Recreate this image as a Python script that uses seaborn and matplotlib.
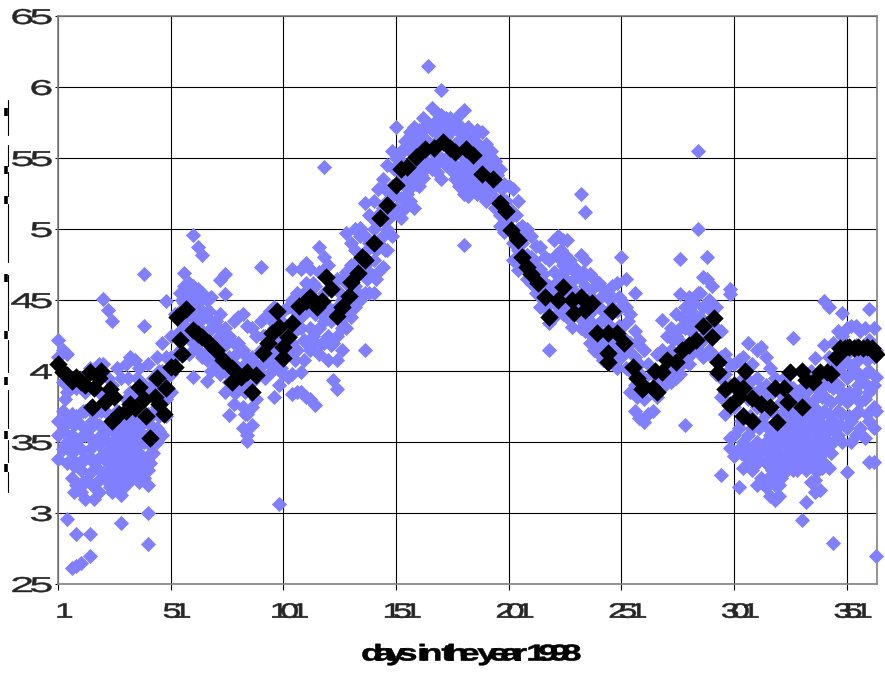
import numpy as np
import pandas as pd
import seaborn as sns
import matplotlib
matplotlib.use("Agg")
import matplotlib.pyplot as plt
import matplotlib.patheffects as pe
from matplotlib.lines import Line2D
from matplotlib.path import Path
from matplotlib.transforms import IdentityTransform, ScaledTranslation

# ── Data ─────────────────────────────────────────────────────────────────────
x_ticks = [1, 51, 101, 151, 201, 251, 301, 351]
x_tick_labels = ["1", "51", "101", "151", "201", "251", "301", "351"]
y_ticks = [2.5, 3, 3.5, 4, 4.5, 5, 5.5, 6, 6.5]
y_tick_labels = ["25", "3", "35", "4", "45", "5", "55", "6", "65"]
x_title = "days in the year 1998"

# blue scatter, one list of readings per day column
blue_days_a = list(range(1, 50, 2))
blue_vals_a = [
    [4.22, 4.1, 3.65, 3.55, 3.38], [4.15, 3.92, 3.72, 3.58, 3.45], [4.12, 3.85, 3.65, 3.5, 3.35, 2.96],
    [3.95, 3.7, 3.55, 3.42, 3.25, 2.61], [3.88, 3.68, 3.5, 3.35, 3.2, 2.85, 2.63], [3.95, 3.62, 3.45, 3.3, 3.15, 2.65],
    [3.85, 3.72, 3.55, 3.38, 3.22, 3.1], [4.02, 3.75, 3.6, 3.45, 3.28, 2.85, 2.7], [4.0, 3.7, 3.5, 3.35, 3.2, 3.1],
    [4.05, 3.85, 3.62, 3.48, 3.3, 3.15], [4.51, 4.05, 3.78, 3.55, 3.4, 3.28], [4.43, 3.95, 3.7, 3.5, 3.35, 3.22],
    [4.35, 3.9, 3.68, 3.5, 3.38, 3.25, 3.15], [4.02, 3.72, 3.55, 3.45, 3.35, 3.25, 3.18],
    [3.95, 3.7, 3.55, 3.42, 3.32, 3.22, 3.13, 2.93], [4.05, 3.8, 3.6, 3.48, 3.38, 3.28, 3.2],
    [4.1, 3.85, 3.65, 3.5, 3.4, 3.3, 3.25], [4.08, 3.8, 3.6, 3.48, 3.35, 3.28], [4.02, 3.75, 3.58, 3.42, 3.3, 3.22],
    [4.68, 4.32, 3.9, 3.65, 3.5, 3.35, 3.25], [4.05, 3.7, 3.55, 3.4, 3.3, 3.2, 3.0, 2.78], [3.95, 3.85, 3.7, 3.55, 3.42],
    [4.1, 3.9, 3.75, 3.6, 3.5], [4.2, 4.0, 3.85, 3.7, 3.55], [4.49, 4.1, 3.95, 3.8, 3.68],
]
blue_days_b = list(range(51, 100, 2))
blue_vals_b = [
    [4.25, 4.1, 3.98, 3.85], [4.4, 4.25, 4.1], [4.55, 4.42, 4.28, 4.15], [4.69, 4.6, 4.48, 4.32, 4.12],
    [4.62, 4.52, 4.4, 4.25, 4.12], [4.96, 4.6, 4.5, 4.38, 4.2, 3.96], [4.87, 4.58, 4.45, 4.3, 4.15],
    [4.82, 4.55, 4.42, 4.28, 4.1], [4.5, 4.38, 4.22, 4.08, 3.93], [4.52, 4.3, 4.15, 4.0], [4.35, 4.22, 4.1],
    [4.64, 4.4, 4.25, 4.1, 3.98], [4.68, 4.54, 4.3, 4.18, 4.0, 3.85], [4.25, 4.1, 3.92, 3.69],
    [4.35, 4.2, 4.05, 3.85, 3.77], [4.38, 4.2, 4.02, 3.9], [4.4, 4.15, 3.95, 3.75, 3.6],
    [4.32, 4.1, 3.88, 3.7, 3.55, 3.51], [4.3, 4.1, 3.92, 3.75, 3.62], [4.25, 4.05, 3.95, 3.8],
    [4.73, 4.35, 4.15, 3.98], [4.38, 4.25, 4.1, 3.95], [4.42, 4.22, 4.05], [4.45, 4.3, 4.12, 3.82],
    [4.4, 4.22, 4.05, 3.9, 3.06],
]
blue_days_c = list(range(101, 150, 2))
blue_vals_c = [
    [4.42, 4.28, 4.1, 3.98], [4.45, 4.3, 4.12, 3.96], [4.72, 4.5, 4.2, 3.98, 3.84], [4.55, 4.35, 4.15, 3.85],
    [4.72, 4.5, 4.3, 3.99, 3.85], [4.76, 4.62, 4.45, 4.2, 3.82], [4.72, 4.55, 4.3, 4.15, 3.8], [4.6, 4.4, 4.2, 3.76],
    [4.87, 4.7, 4.5, 4.3, 4.12], [5.44, 4.8, 4.55, 4.35, 4.2], [4.75, 4.45, 4.25, 4.08], [4.6, 4.42, 4.2, 3.94],
    [4.65, 4.45, 4.25, 4.08, 3.87], [4.65, 4.5, 4.3, 4.15], [4.97, 4.7, 4.5, 4.3], [4.9, 4.75, 4.55, 4.38],
    [5.0, 4.85, 4.6, 4.45], [5.01, 4.95, 4.7, 4.5], [5.18, 4.95, 4.75, 4.55, 4.15], [5.1, 4.9, 4.7, 4.55],
    [5.2, 5.0, 4.78, 4.55], [5.28, 5.1, 4.9, 4.7], [5.35, 5.15, 4.95, 4.73], [5.45, 5.2, 5.0, 4.85],
    [5.55, 5.3, 5.1, 4.95],
]
blue_days_d = list(range(151, 200, 2))
blue_vals_d = [
    [5.72, 5.5, 5.32, 5.15], [5.55, 5.4, 5.22, 5.08], [5.62, 5.45, 5.3, 5.15], [5.68, 5.55, 5.35, 5.2],
    [5.72, 5.55, 5.4, 5.15], [5.7, 5.6, 5.42, 5.3], [5.78, 5.65, 5.5, 5.36], [6.15, 5.75, 5.6, 5.45],
    [5.85, 5.7, 5.55, 5.42], [5.82, 5.68, 5.5, 5.4], [5.98, 5.8, 5.65, 5.5, 5.35], [5.78, 5.65, 5.5, 5.45],
    [5.78, 5.68, 5.5, 5.42], [5.75, 5.6, 5.45, 5.35], [5.8, 5.62, 5.42, 5.3], [5.84, 5.65, 5.4, 5.25, 4.89],
    [5.72, 5.5, 5.35, 5.23], [5.65, 5.45, 5.3], [5.7, 5.55, 5.38, 5.25], [5.68, 5.5, 5.3, 5.24],
    [5.6, 5.45, 5.3, 5.2], [5.55, 5.4, 5.25], [5.48, 5.3, 5.15], [5.42, 5.3, 5.1, 5.02], [5.32, 5.2, 5.05, 4.98],
]
blue_days_e = list(range(201, 250, 2))
blue_vals_e = [
    [5.3, 5.15, 5.0], [5.28, 5.1, 4.9, 4.78], [5.2, 5.0, 4.85, 4.71], [5.02, 4.9, 4.75], [5.0, 4.82, 4.65],
    [4.95, 4.8, 4.62], [4.88, 4.72, 4.55], [4.87, 4.72, 4.55, 4.45], [4.8, 4.62, 4.45],
    [4.78, 4.6, 4.4, 4.34, 4.15], [4.92, 4.7, 4.55, 4.38], [4.95, 4.8, 4.6, 4.45], [4.92, 4.75, 4.6, 4.4],
    [4.92, 4.72, 4.55, 4.38], [4.72, 4.55, 4.4, 4.31], [4.72, 4.55, 4.42], [5.25, 4.82, 4.65, 4.45, 4.3],
    [5.12, 4.78, 4.6, 4.42, 4.28], [4.68, 4.52, 4.35, 4.2], [4.65, 4.5, 4.3, 4.15], [4.62, 4.45, 4.28, 4.12],
    [4.58, 4.42, 4.25, 4.08], [4.55, 4.38, 4.2, 4.05], [4.6, 4.45, 4.25, 4.1], [4.62, 4.42, 4.2, 4.02],
]
blue_days_f = list(range(251, 300, 2))
blue_vals_f = [
    [4.8, 4.5, 4.3, 4.1], [4.65, 4.45, 4.22, 4.02], [4.4, 4.2, 4.0, 3.85], [4.55, 4.28, 4.1, 3.9, 3.72],
    [4.22, 4.05, 3.85, 3.67], [4.15, 3.95, 3.8, 3.64], [4.05, 3.88, 3.7], [3.98, 3.85, 3.72], [4.12, 3.95, 3.82],
    [4.36, 4.15, 4.0, 3.88], [4.25, 4.1, 3.95], [4.3, 4.15, 4.0, 3.92], [4.4, 4.25, 4.05, 3.95],
    [4.79, 4.54, 4.3, 4.1, 3.98], [4.45, 4.3, 4.12, 3.62], [4.52, 4.35, 4.2, 4.05], [4.48, 4.35, 4.15],
    [5.55, 5.0, 4.55, 4.35, 4.15], [4.66, 4.45, 4.25, 4.1], [4.8, 4.65, 4.45, 4.25], [4.6, 4.42, 4.25, 4.1],
    [4.45, 4.3, 4.1, 3.98], [4.28, 4.1, 3.95, 3.82, 3.27], [4.12, 3.98, 3.85, 3.7],
    [4.58, 4.54, 4.05, 3.9, 3.75, 3.53, 3.46],
]
blue_days_g = list(range(301, 364, 2)) + [364]
blue_vals_g = [
    [4.05, 3.9, 3.75, 3.55, 3.4], [4.08, 3.85, 3.6, 3.45, 3.18], [4.1, 3.95, 3.7, 3.5, 3.32],
    [4.2, 4.02, 3.8, 3.55, 3.38], [4.05, 3.85, 3.6, 3.42, 3.3], [4.15, 3.95, 3.75, 3.5, 3.35, 3.2],
    [4.17, 3.88, 3.65, 3.45, 3.25], [4.1, 3.9, 3.7, 3.5, 3.35, 3.18], [4.02, 3.75, 3.55, 3.38, 3.25, 3.12],
    [3.95, 3.7, 3.5, 3.35, 3.2, 3.09], [3.85, 3.65, 3.48, 3.32, 3.2, 3.12], [3.95, 3.72, 3.55, 3.4, 3.28],
    [3.9, 3.7, 3.55, 3.42, 3.32], [4.23, 3.88, 3.7, 3.55, 3.42, 3.3], [3.85, 3.7, 3.55, 3.42, 3.3],
    [3.88, 3.72, 3.6, 3.48, 3.35, 2.95], [3.85, 3.68, 3.55, 3.45, 3.3, 3.08], [4.0, 3.75, 3.62, 3.48, 3.38, 3.22],
    [4.09, 3.8, 3.65, 3.5, 3.38, 3.23, 3.15], [4.0, 3.85, 3.68, 3.52, 3.4, 3.16], [4.49, 4.18, 3.9, 3.72, 3.55, 3.35],
    [4.45, 4.1, 3.9, 3.7, 3.5, 3.32], [4.2, 4.05, 3.88, 3.65, 3.5, 2.79], [4.28, 4.1, 3.9, 3.72, 3.55],
    [4.41, 4.25, 4.05, 3.85, 3.7, 3.5], [4.3, 4.12, 3.95, 3.78, 3.6, 3.29], [4.32, 4.15, 3.98, 3.82, 3.65, 3.5],
    [4.32, 4.18, 4.0, 3.85, 3.7, 3.55], [4.28, 4.12, 3.95, 3.78, 3.6], [4.3, 4.15, 3.98, 3.8, 3.53],
    [4.44, 4.22, 4.0, 3.85, 3.65, 3.36], [4.3, 4.1, 3.9, 3.75, 3.6, 3.36], [4.15, 3.96, 3.72, 2.7],
]

# even-day columns where the blue cloud reads as solid
blue_days_winter = [4, 8, 12, 16, 20, 24, 26, 28, 30, 32, 34, 36, 38, 42, 46]
blue_vals_winter = [
    [3.8, 3.62, 3.48], [3.62, 3.48, 3.33, 3.15], [3.72, 3.55, 3.38, 3.22], [3.65, 3.52, 3.38, 3.2],
    [3.72, 3.55, 3.4, 3.25], [3.85, 3.6, 3.45, 3.3, 3.18], [3.62, 3.48, 3.3, 3.2], [3.6, 3.5, 3.4, 3.3, 3.2],
    [3.62, 3.5, 3.38, 3.28, 3.18], [3.95, 3.7, 3.55, 3.42, 3.32, 3.25], [3.7, 3.55, 3.45, 3.35, 3.25],
    [3.95, 3.7, 3.55, 3.42, 3.3], [3.62, 3.5, 3.35, 3.28], [3.88, 3.62, 3.48, 3.35], [4.0, 3.68, 3.58],
]
blue_days_spring = [56, 60, 64, 68, 72, 80, 84, 92, 96, 100, 106, 110, 114, 118, 122, 126, 130, 134, 138, 142, 146]
blue_vals_spring = [
    [4.5, 4.35, 4.22], [4.55, 4.42, 4.3], [4.5, 4.35, 4.22], [4.42, 4.28, 4.15], [4.3, 4.15, 4.05],
    [4.12, 3.95, 3.85], [4.05, 3.85, 3.7], [4.25, 4.05], [4.35, 4.15, 4.0], [4.35, 4.2, 4.02],
    [4.42, 4.28, 4.08], [4.55, 4.4, 4.22, 4.08], [4.62, 4.45, 4.25], [4.7, 4.4, 4.2], [4.6, 4.35, 4.18],
    [4.55, 4.35], [4.6, 4.42], [4.78, 4.55], [4.85, 4.65], [5.05, 4.85, 4.65], [5.28, 5.05, 4.85],
]
blue_days_summer = list(range(150, 200, 2))
blue_vals_summer = [
    [5.42, 5.25], [5.5, 5.32], [5.55, 5.38], [5.58, 5.42, 5.25], [5.62, 5.48, 5.3], [5.65, 5.48, 5.32],
    [5.68, 5.52, 5.38], [5.72, 5.58, 5.42], [5.72, 5.6, 5.45], [5.75, 5.6, 5.48], [5.75, 5.62, 5.48],
    [5.75, 5.62, 5.48], [5.72, 5.58, 5.45], [5.72, 5.55, 5.42], [5.7, 5.55, 5.38], [5.72, 5.52, 5.35],
    [5.65, 5.48, 5.32], [5.6, 5.42, 5.28], [5.62, 5.45, 5.3], [5.55, 5.38], [5.52, 5.35], [5.48, 5.3],
    [5.4, 5.22], [5.38, 5.2], [5.28, 5.12],
]
blue_days_autumn = [200, 204, 208, 212, 216, 222, 224, 226, 228, 230, 234, 238, 242, 246, 250, 254, 258, 274, 278, 282, 286, 290]
blue_vals_autumn = [
    [5.2, 5.05], [5.1, 4.92], [4.95, 4.75], [4.78, 4.62], [4.68, 4.5], [4.82, 4.62, 4.48], [4.85, 4.68, 4.5],
    [4.82, 4.65, 4.48], [4.78, 4.6, 4.45], [4.65, 4.48], [4.7, 4.52, 4.35], [4.58, 4.42, 4.25],
    [4.52, 4.35, 4.18], [4.5, 4.32, 4.15], [4.52, 4.32, 4.12], [4.35, 4.15], [4.2, 4.0, 3.82],
    [4.22, 4.08], [4.38, 4.2, 4.05], [4.42, 4.28, 4.12], [4.55, 4.38, 4.2], [4.5, 4.32, 4.15],
]
blue_days_late = [304, 308, 312, 316, 318, 320, 322, 324, 326, 328, 330, 332, 334, 336, 338, 340, 342, 344, 348, 352, 356, 360]
blue_vals_late = [
    [3.9, 3.65, 3.42], [3.92, 3.68, 3.45], [3.85, 3.6, 3.38], [3.82, 3.6, 3.42, 3.25], [3.62, 3.45, 3.3],
    [3.58, 3.42, 3.28], [3.78, 3.55, 3.4, 3.25], [3.62, 3.48, 3.35], [3.8, 3.62, 3.48, 3.38], [3.78, 3.62, 3.5, 3.38],
    [3.65, 3.52, 3.42], [3.8, 3.65, 3.5, 3.4], [3.75, 3.6, 3.5, 3.38], [3.7, 3.58, 3.45, 3.32], [3.72, 3.6, 3.45, 3.3],
    [3.82, 3.62, 3.48, 3.32], [3.98, 3.8, 3.62, 3.45], [3.95, 3.78, 3.6, 3.42], [4.0, 3.8, 3.62], [4.05, 3.85, 3.68],
    [4.08, 3.9, 3.72], [4.08, 3.9, 3.7],
]

# black series
black_days = [1, 3, 5, 7, 9, 11, 13, 15, 16, 17, 19, 20, 22, 24, 25, 26, 28, 31, 33, 35, 37, 39, 40, 42, 44, 45,
              46, 48, 49, 51, 53, 54, 55, 56, 58, 61, 63, 65, 68, 71, 74, 78, 78, 82, 85, 87, 89, 92, 94, 96, 98,
              99, 101, 101, 103, 105, 108, 111, 113, 116, 118, 120, 122, 125, 127, 130, 131, 134, 136, 137, 141,
              144, 147, 151, 153, 156, 160, 164, 168, 172, 175, 177, 182, 185, 189, 194, 197, 200, 202, 205, 207,
              209, 211, 214, 217, 219, 223, 225, 229, 230, 233, 235, 238, 240, 245, 245, 245, 247, 249, 252, 256,
              258, 260, 261, 265, 266, 267, 269, 271, 275, 278, 281, 284, 287, 291, 292, 294, 294, 297, 299, 301,
              303, 305, 305, 306, 309, 309, 313, 317, 319, 320, 323, 325, 326, 331, 331, 333, 336, 339, 342, 344,
              346, 348, 350, 352, 354, 356, 358, 360, 362, 364]
black_vals = [4.05, 3.99, 3.97, 3.93, 3.96, 3.92, 3.9, 3.99, 3.75, 3.88, 3.95, 4.0, 3.78, 3.87, 3.65, 3.82, 3.7, 3.72,
              3.77, 3.74, 3.89, 3.8, 3.68, 3.53, 3.82, 3.95, 3.77, 3.7, 3.88, 4.03, 4.03, 4.38, 4.22, 4.12, 4.44,
              4.29, 4.26, 4.24, 4.2, 4.15, 4.08, 4.02, 3.92, 3.96, 3.99, 3.85, 3.97, 4.13, 4.2, 4.27, 4.42, 4.31,
              4.09, 4.17, 4.24, 4.34, 4.46, 4.49, 4.52, 4.45, 4.49, 4.66, 4.58, 4.39, 4.45, 4.53, 4.63, 4.69, 4.8,
              4.78, 4.9, 5.08, 5.17, 5.31, 5.42, 5.44, 5.51, 5.56, 5.57, 5.61, 5.57, 5.54, 5.56, 5.52, 5.39, 5.35,
              5.18, 5.13, 4.99, 4.92, 4.8, 4.73, 4.68, 4.62, 4.52, 4.38, 4.5, 4.59, 4.5, 4.41, 4.52, 4.43, 4.48,
              4.27, 4.27, 4.13, 4.06, 4.42, 4.27, 4.2, 4.03, 3.95, 3.87, 3.89, 3.88, 4.0, 3.85, 3.99, 4.08, 4.06,
              4.15, 4.18, 4.22, 4.32, 4.24, 4.37, 4.06, 3.99, 3.87, 3.76, 3.9, 3.82, 3.68, 3.88, 4.0, 3.65, 3.81,
              3.77, 3.75, 3.88, 3.64, 3.88, 3.78, 3.99, 3.75, 4.0, 3.94, 3.92, 3.99, 3.99, 3.98, 4.1, 4.16, 4.16,
              4.17, 4.16, 4.17, 4.16, 4.17, 4.16, 4.12]

# broken remains of the vertical title at the far left, in image pixels
title_dash_tops = [100, 145, 172, 204, 275, 340, 390, 440, 472]
title_dash_ends = [135, 166, 196, 262, 330, 372, 428, 462, 492]
title_blob_rows = [112, 170, 200, 278, 335, 381, 435, 468]

# ── Config ───────────────────────────────────────────────────────────────────
W, H = 885, 674
BLUE = "#8080FF"
BLUE_S = 60
BLACK_S = 88


class Smear(pe.AbstractPathEffect):
    """Wide glyphs on a tight advance: the string is spread, then every contour widened on its own."""

    def __init__(self, spread, widen, anchor, stroke=0.0):
        super().__init__()
        self.spread, self.widen, self.anchor, self.stroke = spread, widen, anchor, stroke

    def draw_path(self, renderer, gc, tpath, affine, rgbFace=None):
        verts = affine.transform(tpath.vertices).copy()
        codes = tpath.codes
        real = codes != Path.CLOSEPOLY
        x0, x1 = verts[real, 0].min(), verts[real, 0].max()
        pivot = x0 + self.anchor * (x1 - x0)
        verts[:, 0] = pivot + self.spread * (verts[:, 0] - pivot)
        starts = list(np.flatnonzero(codes == Path.MOVETO)) + [len(codes)]
        for a, b in zip(starts[:-1], starts[1:]):
            keep = real[a:b]
            xs = verts[a:b, 0]
            mid = (xs[keep].min() + xs[keep].max()) / 2
            verts[a:b, 0] = mid + self.widen * (xs - mid)
        gc.set_linewidth(self.stroke)
        renderer.draw_path(gc, Path(verts, codes), IdentityTransform(), rgbFace)


def long_table(days, vals):
    rows = [(d, v) for d, col in zip(days, vals) for v in col]
    return pd.DataFrame(rows, columns=["day", "value"])


blue = pd.concat([
    long_table(blue_days_a, blue_vals_a),
    long_table(blue_days_b, blue_vals_b),
    long_table(blue_days_c, blue_vals_c),
    long_table(blue_days_d, blue_vals_d),
    long_table(blue_days_e, blue_vals_e),
    long_table(blue_days_f, blue_vals_f),
    long_table(blue_days_g, blue_vals_g),
    long_table(blue_days_winter, blue_vals_winter),
    long_table(blue_days_spring, blue_vals_spring),
    long_table(blue_days_summer, blue_vals_summer),
    long_table(blue_days_autumn, blue_vals_autumn),
    long_table(blue_days_late, blue_vals_late),
])
black = pd.DataFrame({"day": black_days, "value": black_vals})

# ── Plot ─────────────────────────────────────────────────────────────────────
sns.set_theme(style="white")
plt.rcParams["font.family"] = ["Liberation Sans", "DejaVu Sans"]

fig = plt.figure(figsize=(W / 100, H / 100), dpi=100)
ax = fig.add_axes([58 / W, 1 - 584 / H, (877 - 58) / W, (584 - 16) / H])

sns.scatterplot(data=blue, x="day", y="value", marker="D", s=BLUE_S, color=BLUE,
                linewidth=0, clip_on=False, zorder=3, ax=ax)
sns.scatterplot(data=black, x="day", y="value", marker="D", s=BLACK_S, color="black",
                linewidth=0, clip_on=False, zorder=4, ax=ax)

ax.set_xlim(1, 364.4)
ax.set_ylim(2.5, 6.5)
ax.set_xticks(x_ticks, x_tick_labels)
ax.set_yticks(y_ticks, y_tick_labels)
ax.set_ylabel("")
ax.set_xlabel("")
ax.grid(True, color="black", linewidth=0.8)
ax.set_axisbelow(True)
for spine in ax.spines.values():
    spine.set_color("#808080")
    spine.set_linewidth(1.2)
ax.tick_params(axis="x", bottom=True, length=4.5, width=0.8, color="black", pad=9, labelsize=15)
ax.tick_params(axis="y", left=True, length=2.5, width=0.8, color="black", pad=3, labelsize=15.5)

nudge = ScaledTranslation(6.5 / 100, 0, fig.dpi_scale_trans)
for label in ax.get_xticklabels():
    label.set_transform(label.get_transform() + nudge)
    label.set_path_effects([Smear(0.9, 1.8, 0.5, stroke=0.4)])
for label in ax.get_yticklabels():
    label.set_path_effects([Smear(1.6, 1.25, 1.0, stroke=0.3)])

fig.text(471 / W, 1 - 654 / H, x_title, fontsize=16.5, fontweight="bold", color="black", ha="center", va="center",
         path_effects=[Smear(0.92, 1.7, 0.5, stroke=0.4)])

for top, end in zip(title_dash_tops, title_dash_ends):
    fig.add_artist(Line2D([7.5 / W, 7.5 / W], [1 - top / H, 1 - end / H], color="black", linewidth=0.8))
for row in title_blob_rows:
    fig.add_artist(Line2D([5.5 / W, 5.5 / W], [1 - (row - 4) / H, 1 - (row + 4) / H], color="black",
                          linewidth=2.6, solid_capstyle="butt"))

fig.savefig("out.png", dpi=100, facecolor="white")
